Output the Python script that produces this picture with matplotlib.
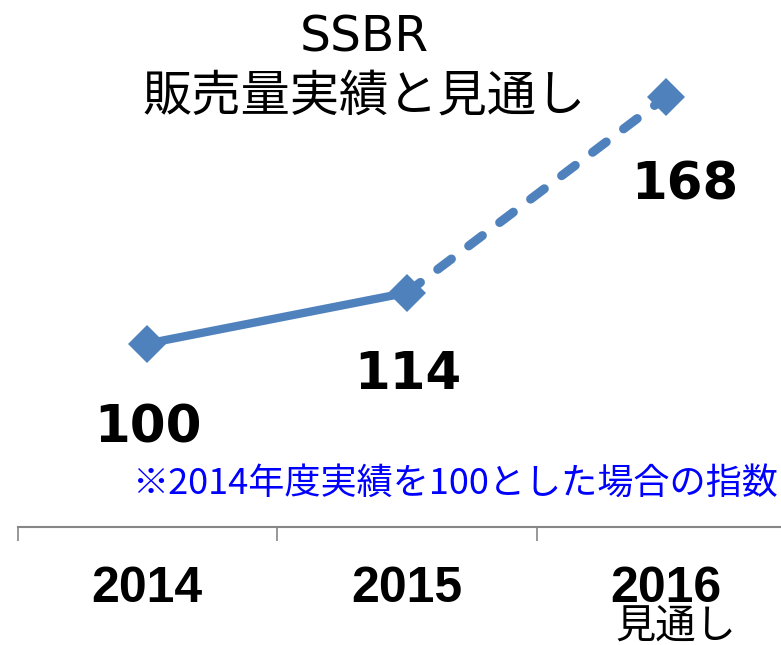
import matplotlib.pyplot as plt
from matplotlib import rcParams
import matplotlib.transforms as mtransforms

rcParams['font.family'] = ['Noto Sans CJK JP', 'DejaVu Sans']

# データ
years = ['2014', '2015', '2016']
year_notes = ['', '', '見通し']
values = [100, 114, 168]
value_labels = ['100', '114', '168']
title_lines = ['SSBR', '販売量実績と見通し']
note = '※2014年度実績を100とした場合の指数'

LINE_COLOR = '#4F81BD'
AXIS_COLOR = '#868686'

fig = plt.figure(figsize=(7.81, 6.45), dpi=100)
# 右端はわざと図の外まで伸ばす（元の図と同じく最後の区切りが見えない）
ax = fig.add_axes([17.5 / 781, 118 / 645, 778.5 / 781, 527 / 645])
ax.set_xlim(-0.5, 2.5)
ax.set_ylim(49.5, 194.6)

xs = list(range(len(values)))

# 実績は実線、見通しは破線
ax.plot(xs[:2], values[:2], color=LINE_COLOR, lw=6, solid_capstyle='round', zorder=2)
ax.plot(xs[1:], values[1:], color=LINE_COLOR, lw=6.5, dashes=(1.9, 2.4),
        dash_capstyle='round', zorder=2)
ax.plot(xs, values, ls='none', marker='D', ms=19.5, mew=0, color=LINE_COLOR, zorder=3)

# データラベル（オフセットはピクセル）
label_offsets = [(1, -85), (1, -82), (19, -89)]
for x, v, lab, (dx, dy) in zip(xs, values, value_labels, label_offsets):
    ax.annotate(lab, (x, v), xytext=(dx * 0.72, dy * 0.72), textcoords='offset points',
                ha='center', va='center', fontsize=37, fontweight='bold',
                family='DejaVu Sans', color='black')

# 軸まわり
for side in ['left', 'right', 'top']:
    ax.spines[side].set_visible(False)
ax.spines['bottom'].set_color(AXIS_COLOR)
ax.spines['bottom'].set_linewidth(1.5)
ax.set_yticks([])
ax.set_xticks([-0.5, 0.5, 1.5, 2.5])
ax.set_xticklabels([])
ax.tick_params(axis='x', which='major', length=10, width=1.2, color=AXIS_COLOR)
ax.set_xticks(xs, minor=True)
ax.set_xticklabels(years, minor=True, fontsize=36, fontweight='bold',
                   family='Liberation Sans')
ax.tick_params(axis='x', which='minor', length=0, pad=28)

trans = mtransforms.blended_transform_factory(ax.transData, fig.transFigure)
for x, extra in zip(xs, year_notes):
    if extra:
        fig.text(x + 0.035, 1 - 627 / 645, extra, transform=trans, ha='center', va='center',
                 fontsize=29)

# タイトル
fig.text(364 / 781, 1 - 37 / 645, title_lines[0], ha='center', va='center', fontsize=35,
         family='DejaVu Sans')
fig.text(364 / 781, 1 - 97 / 645, title_lines[1], ha='center', va='center', fontsize=35.5)

# 注記
fig.text(778 / 781, 1 - 484 / 645, note, ha='right', va='center', fontsize=26,
         color='#0000FF')

fig.savefig('out.png', dpi=100)
